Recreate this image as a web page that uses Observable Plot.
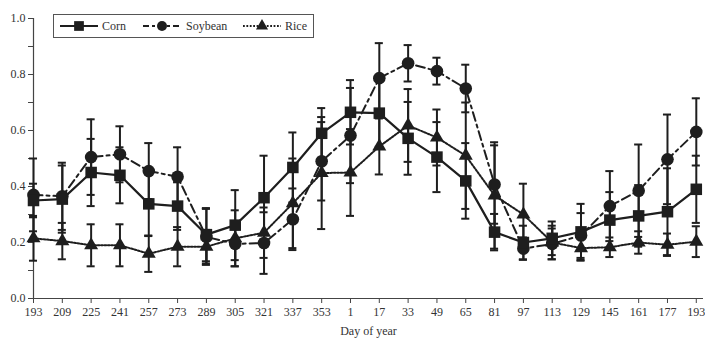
<!DOCTYPE html>
<html>
<head>
<meta charset="utf-8">
<script src="https://cdn.jsdelivr.net/npm/d3@7"></script>
<script src="https://cdn.jsdelivr.net/npm/@observablehq/plot@0.6"></script>
<style>
  html, body { margin: 0; padding: 0; background: #fff; }
  #wrap { position: relative; width: 705px; height: 341px; }
  #legend { position: absolute; left: 0; top: 0; pointer-events: none; }
</style>
</head>
<body>
<div id="wrap"></div>
<script>
const days = ["193","209","225","241","257","273","289","305","321","337","353","1","17","33","49","65","81","97","113","129","145","161","177","193"];

const corn    = [0.350,0.355,0.450,0.440,0.338,0.330,0.228,0.262,0.360,0.468,0.590,0.665,0.662,0.572,0.505,0.420,0.237,0.200,0.215,0.238,0.280,0.295,0.310,0.390];
const cornErr = [0.060,0.120,0.120,0.100,0.115,0.085,0.095,0.125,0.150,0.125,0.090,0.115,0.120,0.130,0.125,0.135,0.065,0.060,0.060,0.100,0.100,0.110,0.155,0.120];

const soybean    = [0.370,0.365,0.505,0.515,0.455,0.435,0.220,0.195,0.198,0.283,0.490,0.582,0.787,0.840,0.812,0.750,0.407,0.178,0.195,0.225,0.330,0.385,0.497,0.595];
const soybeanErr = [0.130,0.120,0.135,0.100,0.100,0.105,0.100,0.080,0.110,0.110,0.140,0.170,0.125,0.065,0.048,0.085,0.140,0.040,0.055,0.080,0.125,0.165,0.160,0.120];

const rice    = [0.215,0.205,0.190,0.190,0.160,0.185,0.185,0.215,0.235,0.340,0.448,0.450,0.543,0.618,0.575,0.510,0.368,0.300,0.200,0.180,0.183,0.200,0.192,0.203];
const riceErr = [0.080,0.065,0.075,0.075,0.065,0.070,0.060,0.100,0.090,0.160,0.200,0.155,0.100,0.130,0.100,0.190,0.190,0.110,0.060,0.045,0.035,0.040,0.040,0.055];

const seriesNames = ["Corn","Soybean","Rice"];
const yTicks = [0,0.1,0.2,0.3,0.4,0.5,0.6,0.7,0.8,0.9,1.0];

const ink = "#1e1e1e";
function rowsOf(name, vals, errs) {
  return vals.map((v, i) => ({series: name, i, v, lo: v - errs[i], hi: v + errs[i]}));
}
const cornRows = rowsOf("Corn", corn, cornErr);
const soyRows = rowsOf("Soybean", soybean, soybeanErr);
const riceRows = rowsOf("Rice", rice, riceErr);
const all = [...riceRows, ...soyRows, ...cornRows];
const capHalf = 0.14;

const chart = Plot.plot({
  width: 705,
  height: 341,
  marginLeft: 33,
  marginRight: 2,
  marginTop: 18,
  marginBottom: 43,
  style: {fontFamily: "'Liberation Serif', 'DejaVu Serif', serif", fontSize: "12px", color: "#333", background: "#fff"},
  x: {domain: [0, 23.25]},
  y: {domain: [0, 1]},
  marks: [
    Plot.axisY({ticks: yTicks, tickFormat: d => (Math.round(d * 10) % 2 === 0 ? d.toFixed(1) : ""), tickSize: 5, tickPadding: 3, label: null, stroke: "#444"}),
    Plot.axisX({ticks: d3.range(days.length), tickFormat: i => days[i], tickSize: 5, tickPadding: 4, label: "Day of year", labelAnchor: "center", labelArrow: "none", labelOffset: 36, stroke: "#444"}),
    Plot.ruleX([0], {stroke: "#444", strokeWidth: 1.2}),
    Plot.ruleY([0], {stroke: "#444", strokeWidth: 1.2}),
    // error bars
    Plot.ruleX(all, {x: "i", y1: "lo", y2: "hi", stroke: ink, strokeWidth: 2}),
    Plot.ruleY(all, {y: "hi", x1: d => d.i - capHalf, x2: d => d.i + capHalf, stroke: ink, strokeWidth: 2}),
    Plot.ruleY(all, {y: "lo", x1: d => d.i - capHalf, x2: d => d.i + capHalf, stroke: ink, strokeWidth: 2}),
    // lines
    Plot.line(riceRows, {x: "i", y: "v", stroke: ink, strokeWidth: 2, strokeDasharray: "1.8,1.6"}),
    Plot.line(soyRows, {x: "i", y: "v", stroke: ink, strokeWidth: 2, strokeDasharray: "9,4,3,4"}),
    Plot.line(cornRows, {x: "i", y: "v", stroke: ink, strokeWidth: 2.2}),
    // markers
    Plot.dot(riceRows, {x: "i", y: "v", symbol: "triangle", r: 5.2, fill: ink, stroke: "none"}),
    Plot.dot(soyRows, {x: "i", y: "v", symbol: "circle", r: 6.3, fill: ink, stroke: "none"}),
    Plot.dot(cornRows, {x: "i", y: "v", symbol: "square", r: 6.5, fill: ink, stroke: "none"})
  ]
});

const wrap = document.getElementById("wrap");
wrap.appendChild(chart);

// Legend overlay
const ns = "http://www.w3.org/2000/svg";
const leg = document.createElementNS(ns, "svg");
leg.setAttribute("id", "legend");
leg.setAttribute("width", 705);
leg.setAttribute("height", 60);
const L = d3.select(leg);
L.append("rect").attr("x", 53.5).attr("y", 14.5).attr("width", 260).attr("height", 23)
  .attr("fill", "#fff").attr("stroke", "#555").attr("stroke-width", 1);
const items = [
  {name: seriesNames[0], x0: 60, x1: 98, tx: 102, dash: null, sym: d3.symbolSquare, size: Math.PI * 5.5 * 5.5},
  {name: seriesNames[1], x0: 143, x1: 181, tx: 186, dash: "6,3,3,3", sym: d3.symbolCircle, size: Math.PI * 5 * 5},
  {name: seriesNames[2], x0: 243, x1: 281, tx: 285, dash: "1.8,1.6", sym: d3.symbolTriangle, size: Math.PI * 4.5 * 4.5}
];
const ly = 26;
for (const it of items) {
  L.append("line").attr("x1", it.x0).attr("x2", it.x1).attr("y1", ly).attr("y2", ly)
    .attr("stroke", ink).attr("stroke-width", 2).attr("stroke-dasharray", it.dash);
  L.append("path").attr("d", d3.symbol(it.sym, it.size)()).attr("transform", `translate(${(it.x0 + it.x1) / 2},${ly})`).attr("fill", ink);
  L.append("text").attr("x", it.tx).attr("y", ly + 4).attr("font-family", "'Liberation Serif', serif")
    .attr("font-size", 12).attr("fill", "#333").text(it.name);
}
wrap.appendChild(leg);
</script>
</body>
</html>
